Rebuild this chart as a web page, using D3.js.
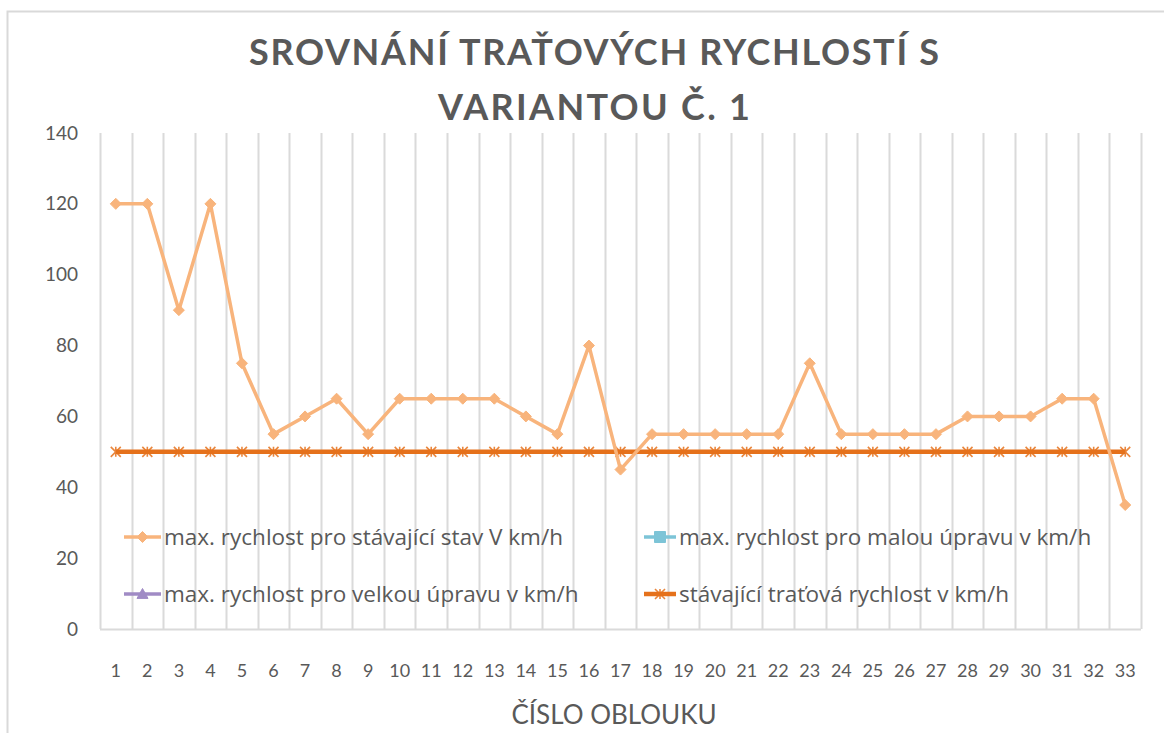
<!DOCTYPE html>
<html lang="cs">
<head>
<meta charset="UTF-8">
<title>Srovnání traťových rychlostí</title>
<style>
  body { margin: 0; background: #fff; font-family: Lato, 'Open Sans', sans-serif; }
  .axis path, .axis line { display: none; }
  .axis text { font: 18px Lato, sans-serif; fill: #595959; }
  .axis.y text { font-size: 19px; }
  .legend text { font: 22.5px 'Open Sans', sans-serif; fill: #595959; }
</style>
</head>
<body>
<div id="chart"></div>
<script src="https://cdn.jsdelivr.net/npm/d3@7"></script>
<script>
// čísla oblouků
const oblouky = d3.range(1, 34);
// max. rychlost pro stávající stav V km/h
const stavajiciStav = [120, 120, 90, 120, 75, 55, 60, 65, 55, 65, 65, 65, 65, 60, 55, 80, 45,
                       55, 55, 55, 55, 55, 75, 55, 55, 55, 55, 60, 60, 60, 65, 65, 35];
// stávající traťová rychlost v km/h
const tratovaRychlost = [50, 50, 50, 50, 50, 50, 50, 50, 50, 50, 50, 50, 50, 50, 50, 50, 50,
                         50, 50, 50, 50, 50, 50, 50, 50, 50, 50, 50, 50, 50, 50, 50, 50];
// série bez hodnot (jen v legendě)
const malaUprava = [];
const velkaUprava = [];
const yTicks = [0, 20, 40, 60, 80, 100, 120, 140];

const series = [
  {name: "max. rychlost pro stávající stav V km/h", values: stavajiciStav, color: "#F8B47C", width: 3.5, marker: "diamond"},
  {name: "max. rychlost pro malou úpravu v km/h", values: malaUprava, color: "#7DC4D7", width: 3.5, marker: "square"},
  {name: "max. rychlost pro velkou úpravu v km/h", values: velkaUprava, color: "#A08BC5", width: 3.5, marker: "triangle"},
  {name: "stávající traťová rychlost v km/h", values: tratovaRychlost, color: "#E5711B", width: 4.5, marker: "star"}
];

const W = 1164, H = 733;
const plot = {left: 100, right: 1141, top: 133, bottom: 629};

const svg = d3.select("#chart").append("svg")
  .attr("width", W).attr("height", H);

// rámeček grafu
svg.append("rect")
  .attr("x", 7.5).attr("y", 11.5)
  .attr("width", W + 20).attr("height", H + 20)
  .attr("fill", "none").attr("stroke", "#d9d9d9").attr("stroke-width", 2);

const x = d3.scaleBand().domain(oblouky).range([plot.left, plot.right]).paddingInner(0).paddingOuter(0);
const y = d3.scaleLinear().domain([0, 140]).range([plot.bottom, plot.top]);
const cx = d => x(d) + x.bandwidth() / 2;

// svislé mřížky na hranicích kategorií
const bounds = oblouky.map(d => x(d)).concat([plot.right]);
svg.append("g").selectAll("line").data(bounds).join("line")
  .attr("x1", d => Math.round(d) + 0.5).attr("x2", d => Math.round(d) + 0.5)
  .attr("y1", plot.top).attr("y2", plot.bottom)
  .attr("stroke", "#dadada").attr("stroke-width", 2);

// vodorovná osa
svg.append("line")
  .attr("x1", plot.left).attr("x2", plot.right)
  .attr("y1", y(0) + 0.5).attr("y2", y(0) + 0.5)
  .attr("stroke", "#dadada").attr("stroke-width", 2);

svg.append("g").attr("class", "axis x")
  .attr("transform", `translate(0,${plot.bottom})`)
  .call(d3.axisBottom(x).tickSize(0).tickPadding(35));

svg.append("g").attr("class", "axis y")
  .attr("transform", `translate(${plot.left},0)`)
  .call(d3.axisLeft(y).tickValues(yTicks).tickSize(0).tickPadding(22));

function markerPath(type, size) {
  const s = size / 2;
  if (type === "diamond") return `M0,${-s}L${s},0L0,${s}L${-s},0Z`;
  if (type === "square") return `M${-s},${-s}H${s}V${s}H${-s}Z`;
  if (type === "triangle") return `M0,${-s}L${s},${s * 0.8}H${-s}Z`;
  return `M${-s},${-s}L${s},${s}M${-s},${s}L${s},${-s}M0,${-s}V${s}`;
}

function drawMarker(g, type, color, px, py) {
  if (type === "star") {
    g.append("path").attr("d", markerPath(type, 10))
      .attr("transform", `translate(${px},${py})`)
      .attr("fill", "none").attr("stroke", color).attr("stroke-width", 1.6).attr("opacity", 0.85);
  } else {
    g.append("path").attr("d", markerPath(type, 11))
      .attr("transform", `translate(${px},${py})`)
      .attr("fill", color).attr("stroke", color).attr("stroke-width", 1);
  }
}

const line = d3.line().x((d, i) => cx(oblouky[i])).y(d => y(d));

// řady – traťová rychlost nejdřív, stávající stav nahoře
[series[3], series[0]].forEach(s => {
  const g = svg.append("g");
  g.append("path").datum(s.values)
    .attr("d", line)
    .attr("fill", "none").attr("stroke", s.color).attr("stroke-width", s.width)
    .attr("stroke-linejoin", "round");
  s.values.forEach((v, i) => drawMarker(g, s.marker, s.color, cx(oblouky[i]), y(v)));
});

// legenda
const legendPos = [[124, 537], [644, 537], [124, 594], [644, 594]];
const lg = svg.append("g").attr("class", "legend");
series.forEach((s, i) => {
  const [lx, ly] = legendPos[i];
  const len = i % 2 === 0 ? 37 : 32;
  const g = lg.append("g");
  g.append("line").attr("x1", lx).attr("x2", lx + len).attr("y1", ly).attr("y2", ly)
    .attr("stroke", s.color).attr("stroke-width", s.width);
  drawMarker(g, s.marker, s.color, lx + len / 2, ly);
  g.append("text").attr("x", lx + len + 3).attr("y", ly).attr("dy", "0.35em").text(s.name);
});

// nadpis
const title = svg.append("g").attr("fill", "#595959")
  .style("font-family", "Lato, sans-serif").style("font-weight", "bold").style("font-size", "36px");
title.append("text").attr("x", 594).attr("y", 65).attr("text-anchor", "middle")
  .attr("textLength", 690).attr("lengthAdjust", "spacing")
  .text("SROVNÁNÍ TRAŤOVÝCH RYCHLOSTÍ S");
title.append("text").attr("x", 594).attr("y", 120).attr("text-anchor", "middle")
  .attr("textLength", 312).attr("lengthAdjust", "spacing")
  .text("VARIANTOU Č. 1");

// název osy
svg.append("text").attr("x", 614).attr("y", 724).attr("text-anchor", "middle")
  .attr("fill", "#595959").style("font", "26px Lato, sans-serif")
  .text("ČÍSLO OBLOUKU");
</script>
</body>
</html>
